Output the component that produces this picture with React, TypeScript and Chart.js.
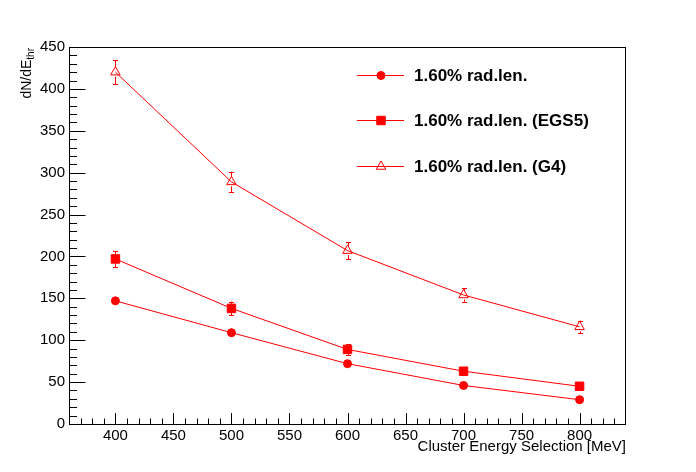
import React, { useEffect, useRef } from 'react'
import { Chart, registerables } from 'chart.js'

Chart.register(...registerables)

// cluster energy cut values [MeV]
const energies = [400, 500, 600, 700, 800]

const labelA = '1.60% rad.len.'
const valuesA = [147, 109, 72, 46, 29]
const errorsA = [2, 2, 1.5, 1.5, 1]

const labelB = '1.60% rad.len. (EGS5)'
const valuesB = [197, 138, 89, 63, 45]
const errorsB = [9.5, 8, 6.5, 4, 3]

const labelC = '1.60% rad.len. (G4)'
const valuesC = [420, 289, 207, 154, 116]
const errorsC = [14, 12, 10, 8, 7.5]

const xLabelTicks = [400, 450, 500, 550, 600, 650, 700, 750, 800]
const yLabelTicks = [0, 50, 100, 150, 200, 250, 300, 350, 400, 450]
const xMinorTicks = [370, 380, 390, 400, 410, 420, 430, 440, 450, 460, 470, 480, 490, 500, 510, 520, 530, 540, 550, 560, 570, 580, 590, 600, 610, 620, 630, 640, 650, 660, 670, 680, 690, 700, 710, 720, 730, 740, 750, 760, 770, 780, 790, 800, 810, 820, 830]
const yMinorTicks = [0, 10, 20, 30, 40, 50, 60, 70, 80, 90, 100, 110, 120, 130, 140, 150, 160, 170, 180, 190, 200, 210, 220, 230, 240, 250, 260, 270, 280, 290, 300, 310, 320, 330, 340, 350, 360, 370, 380, 390, 400, 410, 420, 430, 440, 450]

const RED = '#ff0000'
const FONT = '"Liberation Sans", Arial, sans-serif'

const series = [
  { label: labelA, values: valuesA, errors: errorsA, style: 'circle', radius: 4, gap: 4, fill: RED },
  { label: labelB, values: valuesB, errors: errorsB, style: 'rect', radius: 6, gap: 4.5, fill: RED },
  { label: labelC, values: valuesC, errors: errorsC, style: 'triangle', radius: 5.5, gap: 4.5, fill: 'rgba(0,0,0,0)' },
]

function marker(ctx: CanvasRenderingContext2D, style: string, x: number, y: number, r: number, filled: boolean) {
  ctx.beginPath()
  if (style === 'circle') {
    ctx.arc(x, y, r, 0, Math.PI * 2)
  } else if (style === 'rect') {
    const s = r * Math.SQRT1_2
    ctx.rect(x - s, y - s, 2 * s, 2 * s)
  } else {
    ctx.moveTo(x, y - r)
    ctx.lineTo(x + r * Math.sin((2 * Math.PI) / 3), y + r / 2)
    ctx.lineTo(x - r * Math.sin((2 * Math.PI) / 3), y + r / 2)
    ctx.closePath()
  }
  if (filled) ctx.fill()
  ctx.stroke()
}

const rootDecor = {
  id: 'rootDecor',
  beforeDraw(chart: any) {
    const ctx = chart.ctx
    ctx.save()
    ctx.fillStyle = '#fff'
    ctx.fillRect(0, 0, chart.width, chart.height)
    ctx.restore()
  },
  beforeDatasetsDraw(chart: any) {
    const ctx = chart.ctx
    const xs = chart.scales.x
    const ys = chart.scales.y
    ctx.save()
    ctx.strokeStyle = RED
    ctx.lineWidth = 1
    series.forEach((s) => {
      energies.forEach((e, i) => {
        const px = Math.round(xs.getPixelForValue(e)) + 0.5
        const py = ys.getPixelForValue(s.values[i])
        const top = ys.getPixelForValue(s.values[i] + s.errors[i])
        const bot = ys.getPixelForValue(s.values[i] - s.errors[i])
        ctx.beginPath()
        if (top < py - s.gap) {
          ctx.moveTo(px, top); ctx.lineTo(px, py - s.gap)
          ctx.moveTo(px - 2.5, Math.round(top) + 0.5); ctx.lineTo(px + 2.5, Math.round(top) + 0.5)
        }
        if (bot > py + s.gap) {
          ctx.moveTo(px, bot); ctx.lineTo(px, py + s.gap)
          ctx.moveTo(px - 2.5, Math.round(bot) + 0.5); ctx.lineTo(px + 2.5, Math.round(bot) + 0.5)
        }
        ctx.stroke()
      })
    })
    ctx.restore()
  },
  afterDraw(chart: any) {
    const ctx = chart.ctx
    const { left, right, top, bottom } = chart.chartArea
    const xs = chart.scales.x
    const ys = chart.scales.y
    ctx.save()
    ctx.strokeStyle = '#000'
    ctx.lineWidth = 1
    ctx.strokeRect(left + 0.5, top + 0.5, right - left - 1, bottom - top)

    // ticks pointing into the frame
    ctx.beginPath()
    xMinorTicks.forEach((v) => {
      const px = Math.round(xs.getPixelForValue(v)) + 0.5
      const len = v % 50 === 0 ? 11 : 5.5
      ctx.moveTo(px, bottom); ctx.lineTo(px, bottom - len)
    })
    yMinorTicks.forEach((v) => {
      const py = Math.round(ys.getPixelForValue(v)) + 0.5
      const len = v % 50 === 0 ? 16.5 : 8
      ctx.moveTo(left, py); ctx.lineTo(left + len, py)
    })
    ctx.stroke()

    // axis titles
    ctx.fillStyle = '#000'
    ctx.font = `15px ${FONT}`
    ctx.textAlign = 'right'
    ctx.textBaseline = 'alphabetic'
    ctx.fillText('Cluster Energy Selection [MeV]', right, 451)

    ctx.save()
    ctx.translate(31, top + 1)
    ctx.rotate(-Math.PI / 2)
    ctx.font = `10px ${FONT}`
    const sub = 'thr'
    const subW = ctx.measureText(sub).width
    ctx.fillText(sub, 0, 3)
    ctx.font = `14px ${FONT}`
    ctx.fillText('dN/dE', -subW, 0)
    ctx.restore()

    // legend
    const rows = [75, 120, 166]
    series.forEach((s, i) => {
      const y = rows[i] + 0.5
      ctx.strokeStyle = RED
      ctx.fillStyle = RED
      ctx.beginPath()
      ctx.moveTo(357, y); ctx.lineTo(404, y)
      ctx.stroke()
      marker(ctx, s.style, 381, y, s.radius, s.style !== 'triangle')
      ctx.fillStyle = '#000'
      ctx.font = `bold 17px ${FONT}`
      ctx.textAlign = 'left'
      ctx.textBaseline = 'middle'
      ctx.fillText(s.label, 414, rows[i] + 1)
    })
    ctx.restore()
  },
}

export default function App() {
  const canvasRef = useRef<HTMLCanvasElement>(null)
  const chartRef = useRef<Chart | null>(null)

  useEffect(() => {
    document.body.style.margin = '0'
    if (chartRef.current) { chartRef.current.destroy(); chartRef.current = null }
    const ctx = canvasRef.current?.getContext('2d')
    if (!ctx) return

    chartRef.current = new Chart(ctx, {
      type: 'line',
      data: {
        datasets: series.map((s) => ({
          label: s.label,
          data: energies.map((e, i) => ({ x: e, y: s.values[i] })),
          borderColor: RED,
          borderWidth: 1,
          backgroundColor: RED,
          pointStyle: s.style as any,
          pointRadius: s.radius,
          pointHoverRadius: s.radius,
          pointBorderWidth: 1,
          pointBorderColor: RED,
          pointBackgroundColor: s.fill,
          tension: 0,
        })),
      },
      options: {
        animation: false,
        responsive: false,
        layout: { padding: { top: 47, right: 70, left: 0, bottom: 0 } },
        plugins: { legend: { display: false }, tooltip: { enabled: false } },
        scales: {
          x: {
            type: 'linear', min: 360, max: 840,
            afterBuildTicks: (s: any) => { s.ticks = xLabelTicks.map((v) => ({ value: v })) },
            afterFit: (s: any) => { s.height = 48 },
            grid: { display: false, drawTicks: false },
            border: { display: false },
            ticks: { color: '#000', font: { family: FONT, size: 15 }, padding: 3, maxRotation: 0, autoSkip: false },
          },
          y: {
            type: 'linear', min: 0, max: 450,
            afterBuildTicks: (s: any) => { s.ticks = yLabelTicks.map((v) => ({ value: v })) },
            afterFit: (s: any) => { s.width = 69 },
            grid: { display: false, drawTicks: false },
            border: { display: false },
            ticks: { color: '#000', font: { family: FONT, size: 15 }, padding: 4, autoSkip: false },
          },
        },
      },
      plugins: [rootDecor],
    })

    return () => { if (chartRef.current) chartRef.current.destroy() }
  }, [])

  return (
    <div style={{ width: 696, height: 472 }}>
      <canvas ref={canvasRef} width={696} height={472} />
    </div>
  )
}
